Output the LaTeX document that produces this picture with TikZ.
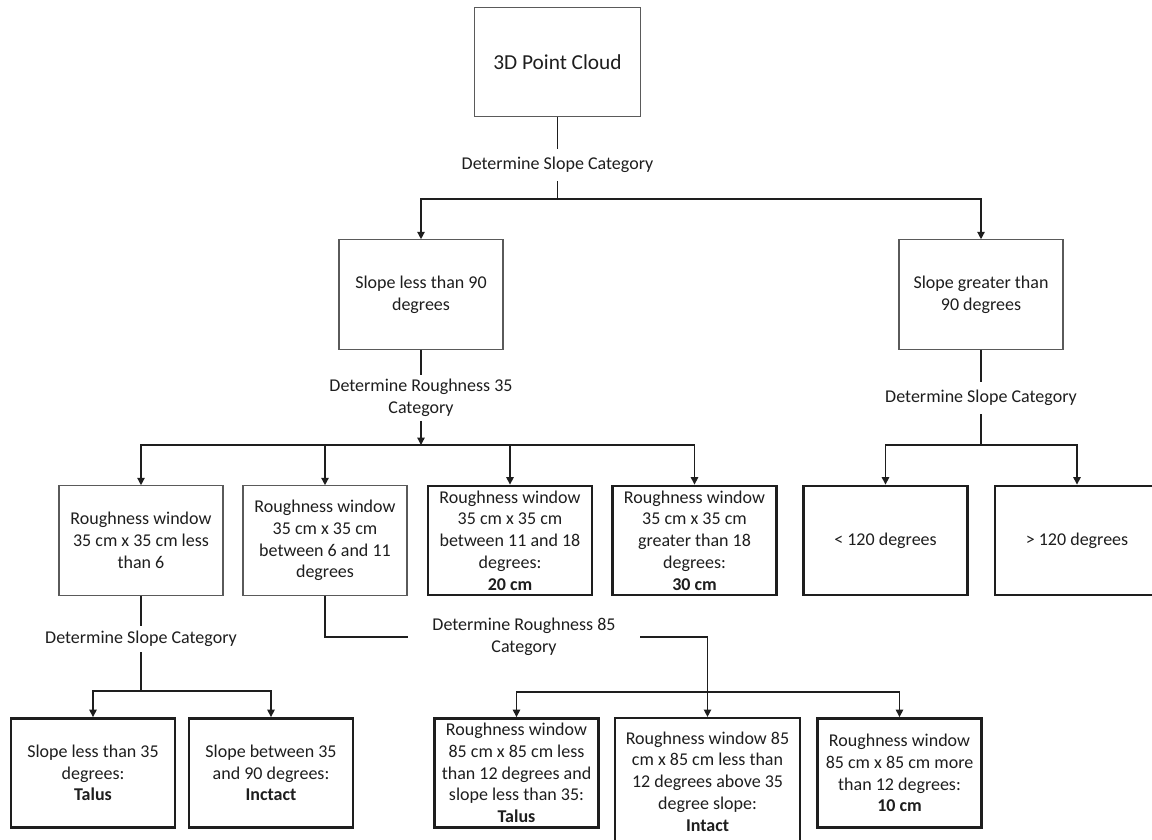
\documentclass[tikz,border=0pt]{standalone}
\usepackage{fontspec}
\setmainfont{Carlito}
\usetikzlibrary{arrows.meta}
\definecolor{txt}{HTML}{1E1E1E}
\definecolor{thinc}{HTML}{5A5A5A}
\definecolor{thickc}{HTML}{1E1E1E}
\definecolor{linec}{HTML}{1E1E1E}
\begin{document}
\begin{tikzpicture}[x=0.75pt,y=-0.75pt,
  every node/.style={font=\fontsize{13.5pt}{16.3pt}\selectfont, text=txt, align=center, inner sep=0pt},
  thinbox/.style={draw=thinc, line width=0.95pt, fill=white, minimum width=123pt, minimum height=82pt},
  thickbox/.style={draw=thickc, line width=1.9pt, fill=white, minimum width=123pt, minimum height=82pt},
  lab/.style={fill=white, inner ysep=5pt, inner xsep=3pt},
  conn/.style={draw=linec, line width=1pt},
  arr/.style={conn, -{Triangle[length=5.5pt,width=5.5pt]}}
]
\clip (0,0) rectangle (1152,839);
\fill[white] (0,0) rectangle (1152,839);

% boxes
\node[thinbox, minimum width=124pt, font=\fontsize{16pt}{19pt}\selectfont] (top) at (557.5,62) {3D Point Cloud};
\node[thinbox] (slt) at (421,294.5) {Slope less than 90\\degrees};
\node[thinbox] (sgt) at (981,294.5) {Slope greater than\\90 degrees};

\node[thinbox] (A) at (141,540.5) {Roughness window\\35 cm x 35 cm less\\than 6};
\node[thinbox] (B) at (325,540.5) {Roughness window\\35 cm x 35 cm\\between 6 and 11\\degrees};
\node[thickbox] (C) at (510,540.5) {Roughness window\\35 cm x 35 cm\\between 11 and 18\\degrees:\\\textbf{20 cm}};
\node[thickbox] (D) at (694.5,540.5) {Roughness window\\35 cm x 35 cm\\greater than 18\\degrees:\\\textbf{30 cm}};
\node[thickbox] (E) at (885.5,540.5) {< 120 degrees};
\node[thickbox] (F) at (1077,540.5) {> 120 degrees};

\node[thickbox] (L1) at (93,773) {Slope less than 35\\degrees:\\\textbf{Talus}};
\node[thickbox] (L2) at (271,773) {Slope between 35\\and 90 degrees:\\\textbf{Inctact}};
\node[thickbox] (T85) at (516.5,773) {Roughness window\\85 cm x 85 cm less\\than 12 degrees and\\slope less than 35:\\\textbf{Talus}};
\node[thickbox, minimum width=138.75pt, minimum height=95pt] (I85) at (707.5,781.5) {Roughness window 85\\cm x 85 cm less than\\12 degrees above 35\\degree slope:\\\textbf{Intact}};
\node[thickbox] (C10) at (899.5,773) {Roughness window\\85 cm x 85 cm more\\than 12 degrees:\\\textbf{10 cm}};

% labels
\node[lab, inner ysep=6pt] (lab1) at (557.5,165) {Determine Slope Category};
\node[lab, inner ysep=3pt] (lab2) at (421,398) {Determine Roughness 35\\Category};
\node[lab, inner ysep=6pt] (lab4) at (981,398) {Determine Slope Category};
\node[lab, inner ysep=4pt] (lab5) at (141,639) {Determine Slope Category};
\node[lab, minimum width=174pt, inner ysep=3pt] (lab3) at (524,637) {Determine Roughness 85\\Category};

% bus coordinates
\coordinate (b1) at (557.5,199);
\coordinate (b2) at (421,445);
\coordinate (b4) at (981,445);
\coordinate (b5) at (141,691);
\coordinate (b3) at (707.5,692);

% connectors
\draw[conn] (top) -- (lab1);
\draw[conn] (lab1) -- (b1);
\draw[arr] (b1) -| (slt.north);
\draw[arr] (b1) -| (sgt.north);

\draw[conn] (slt) -- (lab2);
\draw[arr] (lab2) -- (b2);
\draw[arr] (b2) -| (A.north);
\draw[arr] (b2) -| (B.north);
\draw[arr] (b2) -| (C.north);
\draw[arr] (b2) -| (D.north);

\draw[conn] (sgt) -- (lab4);
\draw[conn] (lab4) -- (b4);
\draw[arr] (b4) -| (E.north);
\draw[arr] (b4) -| (F.north);

\draw[conn] (A) -- (lab5);
\draw[conn] (lab5) -- (b5);
\draw[arr] (b5) -| (L1.north);
\draw[arr] (b5) -| (L2.north);

\draw[conn] (B.south) |- (lab3.west);
\draw[arr] (lab3.east) -| (I85.north);
\draw[arr] (b3) -| (T85.north);
\draw[arr] (b3) -| (C10.north);
\end{tikzpicture}
\end{document}
